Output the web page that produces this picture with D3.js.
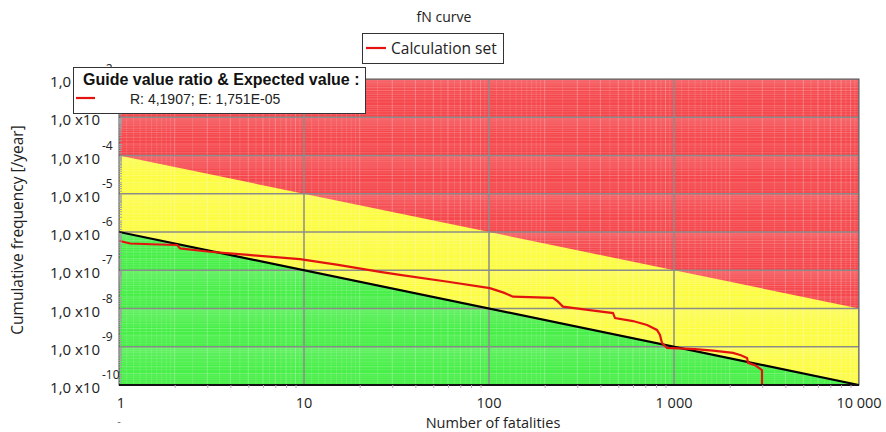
<!DOCTYPE html>
<html><head><meta charset="utf-8">
<script src="https://cdn.jsdelivr.net/npm/d3@7"></script>
<style>body{margin:0;background:#fff}svg{display:block}</style>
</head><body>
<svg id="c" width="886" height="432"></svg>
<script>
// ---- data ----
const title = "fN curve";
const seriesName = "Calculation set";
const guideTitle = "Guide value ratio & Expected value :";
const guideText = "R: 4,1907; E: 1,751E-05";
const xTicks = [1, 10, 100, 1000, 10000];
const xTickLabels = ["1", "10", "100", "1 000", "10 000"];
const yExponents = [-2, -3, -4, -5, -6, -7, -8, -9, -10];
const upperLimitN = [1, 10000];
const upperLimitF = [1e-4, 1e-8];
const lowerLimitN = [1, 10000];
const lowerLimitF = [1e-6, 1e-10];
const curveN = [1, 1.15, 1.5, 2.06, 2.14, 3.1, 5, 9.5, 15, 25.8, 33, 60, 101, 120, 135, 222, 236, 251, 350, 468, 480, 600, 715, 809, 840, 861, 917, 1300, 1625, 2084, 2300, 2482, 2513, 2740, 2990, 2990, 3300];
const curveF = [5.89e-7, 5.01e-7, 4.79e-7, 4.57e-7, 3.72e-7, 3.05e-7, 2.51e-7, 1.95e-7, 1.41e-7, 9.1e-8, 7.6e-8, 5.0e-8, 3.4e-8, 2.6e-8, 2.04e-8, 1.9e-8, 1.51e-8, 1.12e-8, 9.1e-9, 7.6e-9, 5.6e-9, 4.7e-9, 3.7e-9, 2.75e-9, 2.04e-9, 1.26e-9, 9.3e-10, 8.7e-10, 7.9e-10, 6.9e-10, 6.0e-10, 5.1e-10, 3.8e-10, 3.3e-10, 2.45e-10, 1e-10, 1e-10];

// ---- layout ----
const svg = d3.select("#c");
const L = 119, R = 859, T = 79, B = 385;
const x = d3.scaleLog().domain([1, 10000]).range([L, R]);
const y = d3.scaleLog().domain([1e-10, 1e-2]).range([B, T]);
const uiFont = "'Open Sans', 'Noto Sans', sans-serif";
const arial = "'Liberation Sans', Arial, sans-serif";
const RED = "#f5474c", YEL = "#fcfc42", GRN = "#48ef48";

const defs = svg.append("defs");
defs.append("clipPath").attr("id", "clip").append("rect")
  .attr("x", L).attr("y", T).attr("width", R - L).attr("height", B - T);
const g = svg.append("g").attr("clip-path", "url(#clip)");

// regions
g.append("rect").attr("x", L).attr("y", T).attr("width", R - L).attr("height", B - T).attr("fill", RED);
const up = upperLimitN.map((n, i) => [x(n), y(upperLimitF[i])]);
const lo = lowerLimitN.map((n, i) => [x(n), y(lowerLimitF[i])]);
g.append("path").attr("fill", YEL)
  .attr("d", d3.line()([up[0], up[1], [R, B], [L, B]]) + "Z");
g.append("path").attr("fill", GRN)
  .attr("d", d3.line()([lo[0], lo[1], [R, B], [L, B]]) + "Z");

// fine grid
const fineX = [], minorX = [];
for (let k = 0; k < 4; k++) {
  for (let m = 2; m <= 9; m++) minorX.push(m * Math.pow(10, k));
  for (let m = 1.1; m < 1.95; m += 0.1) fineX.push(m * Math.pow(10, k));
  for (let m = 2.5; m < 10; m += 1) fineX.push(m * Math.pow(10, k));
}
const fineY = [], minorY = [];
for (let k = -10; k < -2; k++) {
  for (let m = 2; m <= 9; m++) minorY.push(m * Math.pow(10, k));
  for (let m = 1.2; m < 1.9; m += 0.2) fineY.push(m * Math.pow(10, k));
  for (let m = 2.5; m < 10; m += 1) fineY.push(m * Math.pow(10, k));
}
g.selectAll(".fx").data(fineX).enter().append("line")
  .attr("x1", d => x(d)).attr("x2", d => x(d)).attr("y1", T).attr("y2", B)
  .attr("stroke", "#fff").attr("stroke-opacity", 0.13).attr("stroke-width", 1);
g.selectAll(".mx").data(minorX).enter().append("line")
  .attr("x1", d => x(d)).attr("x2", d => x(d)).attr("y1", T).attr("y2", B)
  .attr("stroke", "#fff").attr("stroke-opacity", 0.25).attr("stroke-width", 1);
g.selectAll(".fy").data(fineY).enter().append("line")
  .attr("y1", d => y(d)).attr("y2", d => y(d)).attr("x1", L).attr("x2", R)
  .attr("stroke", "#fff").attr("stroke-opacity", 0.13).attr("stroke-width", 1);
g.selectAll(".my").data(minorY).enter().append("line")
  .attr("y1", d => y(d)).attr("y2", d => y(d)).attr("x1", L).attr("x2", R)
  .attr("stroke", "#fff").attr("stroke-opacity", 0.22).attr("stroke-width", 1);

// major grid
g.selectAll(".gx").data(xTicks).enter().append("line")
  .attr("x1", d => x(d)).attr("x2", d => x(d)).attr("y1", T).attr("y2", B)
  .attr("stroke", "#8c8c8c").attr("stroke-width", 1.5);
g.selectAll(".gy").data(yExponents).enter().append("line")
  .attr("y1", d => y(Math.pow(10, d))).attr("y2", d => y(Math.pow(10, d))).attr("x1", L).attr("x2", R)
  .attr("stroke", "#8c8c8c").attr("stroke-width", 1.5);

// lower limit line
g.append("path").attr("fill", "none").attr("stroke", "#000").attr("stroke-width", 2.2)
  .attr("d", d3.line()(lo));

// curve
const curve = curveN.map((n, i) => [n, curveF[i]]);
g.append("path").datum(curve).attr("fill", "none").attr("stroke", "#e3140f").attr("stroke-width", 2.2)
  .attr("d", d3.line().x(d => x(d[0])).y(d => y(Math.max(d[1], 1e-10))));

// frame
svg.append("rect").attr("x", L).attr("y", T).attr("width", R - L).attr("height", B - T)
  .attr("fill", "none").attr("stroke", "#555").attr("stroke-width", 1);
svg.append("line").attr("x1", L).attr("x2", R).attr("y1", B).attr("y2", B).attr("stroke", "#111").attr("stroke-width", 2);

// axes (ticks)
const xAxis = d3.axisBottom(x).tickValues(minorX).tickSize(3).tickFormat("");
const xa = svg.append("g").attr("transform", `translate(0,${B})`).call(xAxis);
xa.select(".domain").remove();
xa.selectAll("line").attr("stroke", "#c9a0c9");
const yAxis = d3.axisLeft(y).tickValues(minorY.concat(fineY)).tickSize(3).tickFormat("");
const ya = svg.append("g").attr("transform", `translate(${L},0)`).call(yAxis);
ya.select(".domain").remove();
ya.selectAll("line").attr("stroke", "#a0a0a0").attr("transform", "translate(3,0)");

// x labels
svg.selectAll(".xl").data(xTicks).enter().append("text")
  .attr("x", (d, i) => i === 0 ? x(d) + 2 : x(d)).attr("y", 408)
  .attr("text-anchor", "middle").attr("font-family", uiFont).attr("font-size", 14.5).attr("fill", "#222")
  .text((d, i) => xTickLabels[i]);
svg.append("text").attr("x", L).attr("y", 425).attr("text-anchor", "middle")
  .attr("font-family", uiFont).attr("font-size", 11).attr("fill", "#666").text("-");
svg.append("text").attr("x", 493).attr("y", 428).attr("text-anchor", "middle")
  .attr("font-family", uiFont).attr("font-size", 14.5).attr("fill", "#222").text("Number of fatalities");

// y labels
const yl = svg.selectAll(".yl").data(yExponents).enter().append("g")
  .attr("transform", d => `translate(0,${y(Math.pow(10, d))})`);
yl.append("text").attr("x", 100).attr("y", 8).attr("text-anchor", "end")
  .attr("font-family", uiFont).attr("font-size", 15).attr("fill", "#222").text("1,0 x10");
yl.append("text").attr("x", 102).attr("y", -6).attr("text-anchor", "start")
  .attr("font-family", uiFont).attr("font-size", 12).attr("fill", "#222").text(d => d);
svg.append("text").attr("transform", "translate(23,230) rotate(-90)").attr("text-anchor", "middle")
  .attr("font-family", uiFont).attr("font-size", 15.5).attr("fill", "#222").text("Cumulative frequency [/year]");

// title
svg.append("text").attr("x", 444).attr("y", 22).attr("text-anchor", "middle")
  .attr("font-family", uiFont).attr("font-size", 14).attr("fill", "#222").text(title);

// series legend
svg.append("rect").attr("x", 362.5).attr("y", 33.5).attr("width", 141).attr("height", 30)
  .attr("fill", "#fff").attr("stroke", "#333").attr("stroke-width", 1);
svg.append("line").attr("x1", 366).attr("x2", 386).attr("y1", 48).attr("y2", 48)
  .attr("stroke", "#e3140f").attr("stroke-width", 2.2);
svg.append("text").attr("x", 391).attr("y", 53.5).attr("font-family", uiFont).attr("font-size", 15.5).attr("fill", "#222").text(seriesName);

// guide legend
svg.append("rect").attr("x", 73.5).attr("y", 67.5).attr("width", 292).attr("height", 46)
  .attr("fill", "#fff").attr("stroke", "#333").attr("stroke-width", 1);
svg.append("text").attr("x", 83).attr("y", 85).attr("font-family", arial)
  .attr("font-weight", "bold").attr("font-size", 16).attr("fill", "#111").text(guideTitle);
svg.append("line").attr("x1", 76).attr("x2", 95).attr("y1", 98).attr("y2", 98)
  .attr("stroke", "#e3140f").attr("stroke-width", 2.2);
svg.append("text").attr("x", 130).attr("y", 104).attr("font-family", arial)
  .attr("font-size", 14).attr("fill", "#222").text(guideText);
</script>
</body></html>
